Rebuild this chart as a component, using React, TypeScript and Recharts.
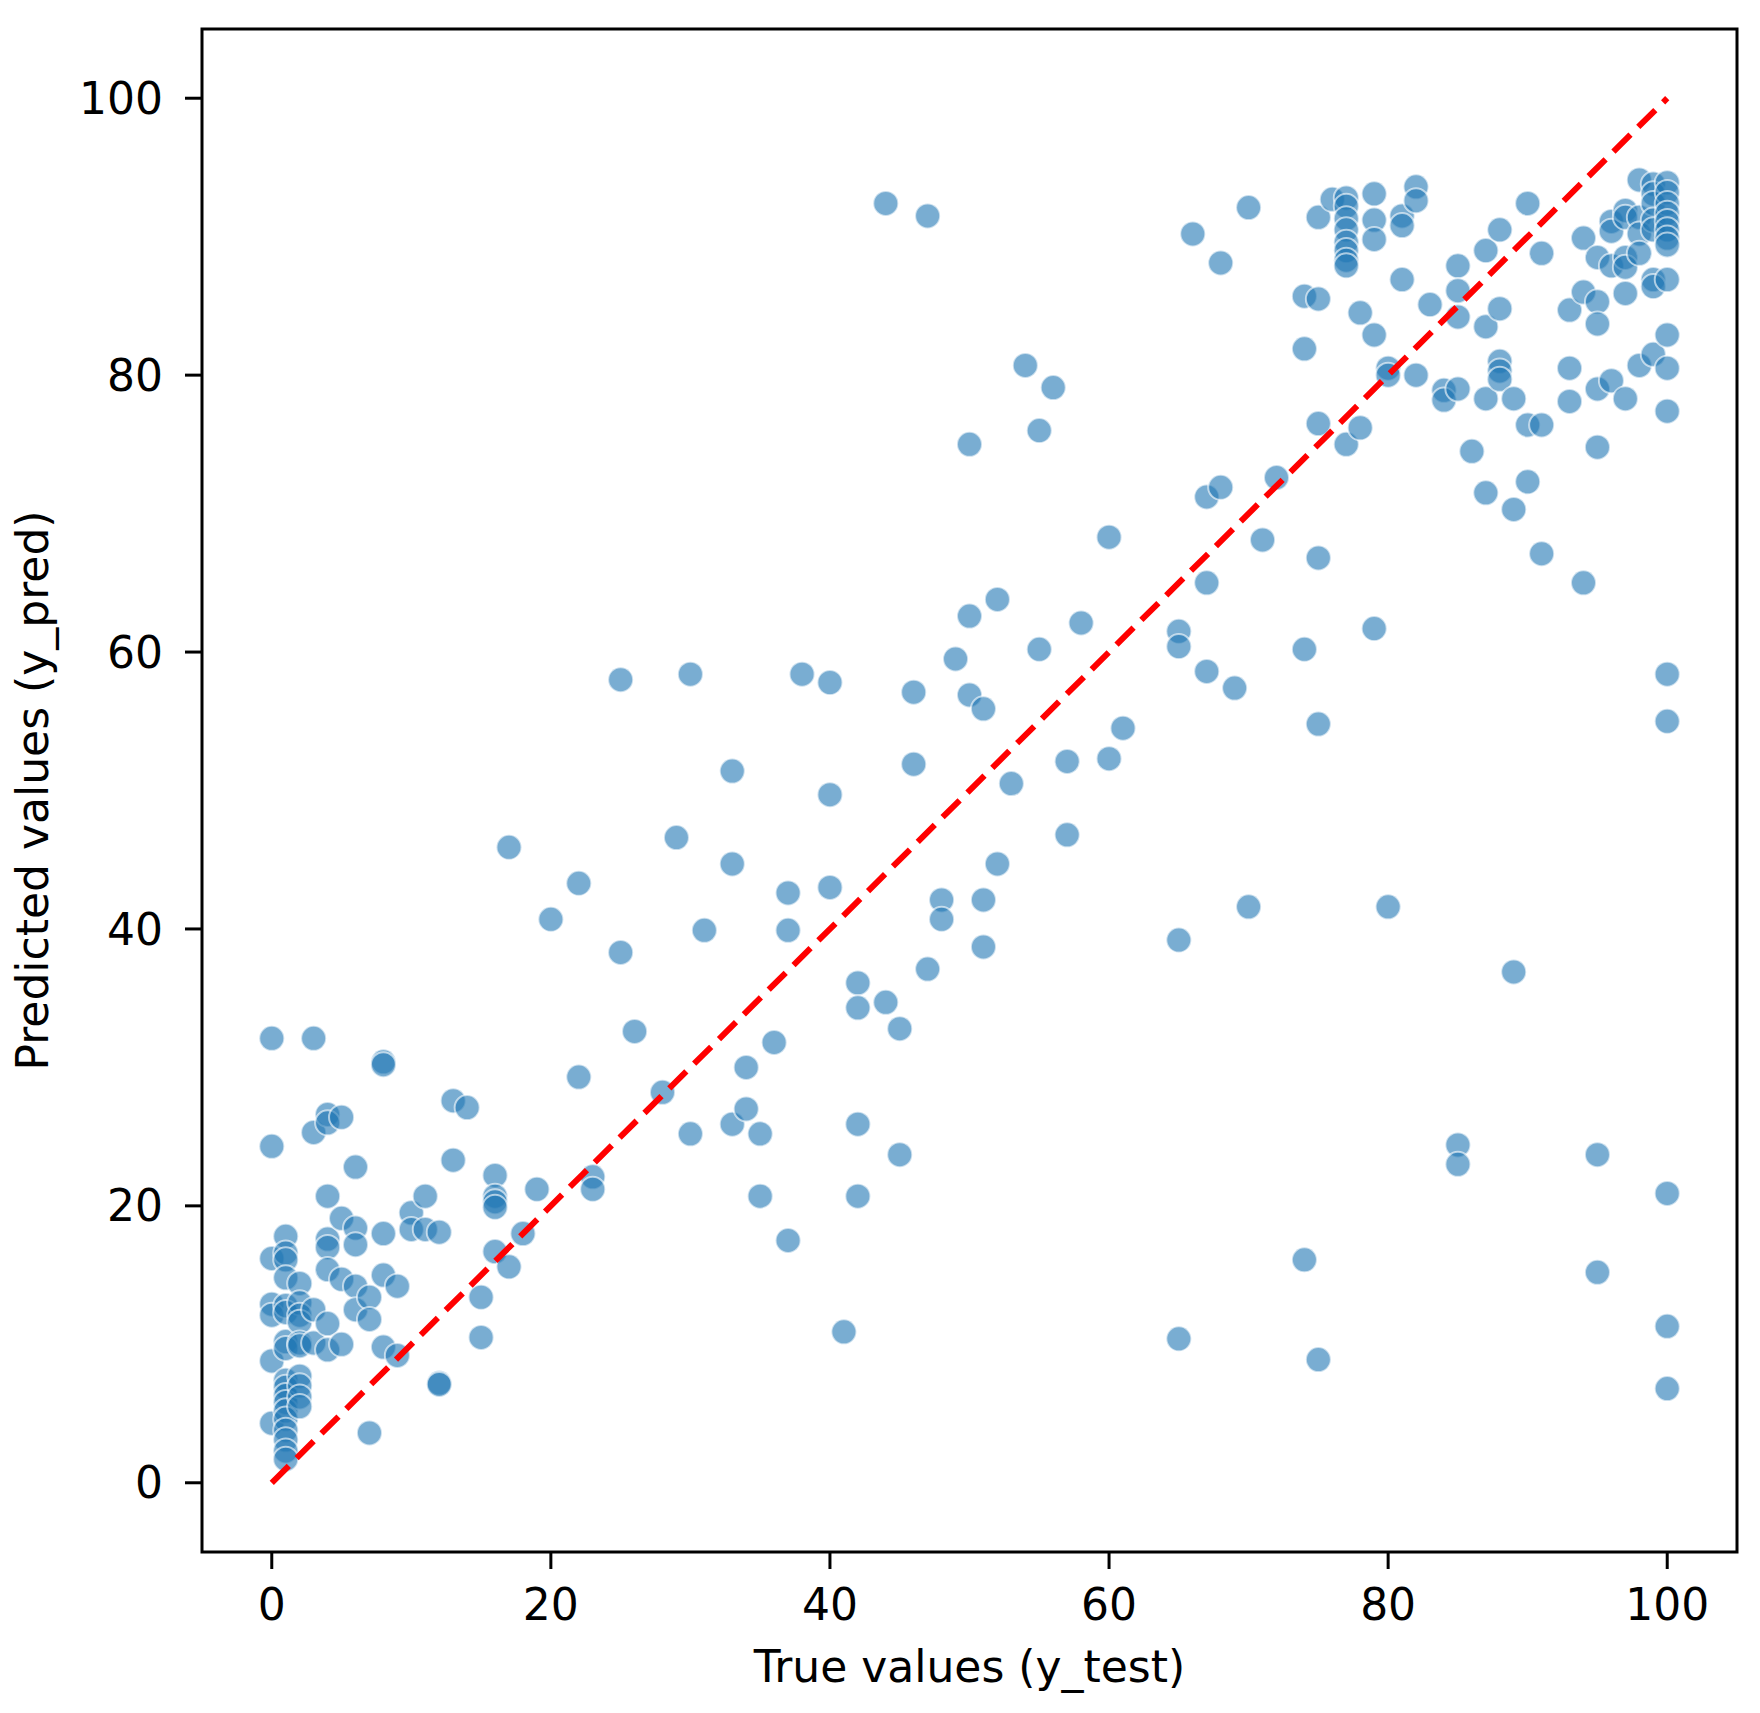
import React from 'react';
import { ScatterChart, Scatter, XAxis, YAxis, ReferenceArea } from 'recharts';

const trueValues = [
  0, 1, 2, 3, 4, 5, 6, 7, 8, 9, 10, 11, 12, 13, 14, 15, 16, 17, 18, 19, 20, 22, 23, 25, 26, 28, 29, 30,
  31, 33, 34, 35, 36, 37, 38, 40, 41, 42, 44, 45, 46, 47, 48, 49, 50, 51, 52, 53, 54, 55, 56, 57, 58,
  60, 61, 65, 66, 67, 68, 69, 70, 71, 72, 74, 75, 76, 77, 78, 79, 80, 81, 82, 83, 84, 85, 86, 87, 88,
  89, 90, 91, 93, 94, 95, 96, 97, 98, 99, 100,
];

const predictedValues = [
  [32.1, 24.3, 16.2, 12.9, 12.1, 8.8, 4.3],
  [17.8, 16.6, 16.1, 14.8, 12.8, 12.3, 10.2, 9.7, 7.4, 6.9, 6.3, 5.8, 5.2, 4.6, 3.8, 3.1, 2.3, 1.7],
  [14.4, 13.0, 12.1, 11.6, 10.1, 9.9, 7.7, 7.0, 6.2, 5.5],
  [32.1, 25.3, 12.5, 10.1],
  [26.6, 26.0, 20.7, 17.6, 17.0, 15.4, 11.5, 9.6],
  [26.4, 19.1, 14.7, 10.0],
  [22.8, 18.4, 17.2, 14.2, 12.5],
  [13.4, 11.8, 3.6],
  [30.4, 30.2, 18.0, 15.0, 9.8],
  [14.2, 9.2],
  [19.5, 18.3],
  [20.7, 18.3],
  [18.1, 7.2, 7.1],
  [27.6, 23.3],
  [27.1],
  [13.4, 10.5],
  [22.2, 20.7, 20.3, 19.9, 16.7],
  [45.9, 15.6],
  [18.0],
  [21.2],
  [40.7],
  [43.3, 29.3],
  [22.1, 21.2],
  [58.0, 38.3],
  [32.6],
  [28.2],
  [46.6],
  [58.4, 25.2],
  [39.9],
  [51.4, 44.7, 25.9],
  [30.0, 27.0],
  [25.2, 20.7],
  [31.8],
  [42.6, 39.9, 17.5],
  [58.4],
  [57.8, 49.7, 43.0],
  [10.9],
  [36.1, 34.3, 25.9, 20.7],
  [92.4, 34.7],
  [32.8, 23.7],
  [57.1, 51.9],
  [91.5, 37.1],
  [42.1, 40.7],
  [59.5],
  [75.0, 62.6, 56.9],
  [55.9, 42.1, 38.7],
  [63.8, 44.7],
  [50.5],
  [80.7],
  [76.0, 60.2],
  [79.1],
  [52.1, 46.8],
  [62.1],
  [68.3, 52.3],
  [54.5],
  [61.5, 60.4, 39.2, 10.4],
  [90.2],
  [71.2, 65.0, 58.6],
  [88.1, 71.9],
  [57.4],
  [92.1, 41.6],
  [68.1],
  [72.6],
  [85.7, 81.9, 60.2, 16.1],
  [91.4, 85.5, 76.5, 66.8, 54.8, 8.9],
  [92.7],
  [92.8, 92.2, 91.3, 90.5, 89.6, 89.0, 88.3, 87.9, 75.0],
  [84.5, 76.2],
  [93.1, 91.2, 89.8, 82.9, 61.7],
  [80.5, 80.0, 41.6],
  [91.5, 90.8, 86.9],
  [93.6, 92.6, 80.0],
  [85.1],
  [78.9, 78.2],
  [87.9, 86.1, 84.2, 79.0, 24.4, 23.0],
  [74.5],
  [89.0, 83.5, 78.3, 71.5],
  [90.5, 84.8, 81.0, 80.3, 79.7],
  [78.3, 70.3, 36.9],
  [92.4, 76.4, 72.3],
  [88.8, 76.4, 67.1],
  [84.7, 80.5, 78.1],
  [89.9, 86.0, 65.0],
  [88.5, 85.3, 83.7, 79.0, 74.8, 23.7, 15.2],
  [91.1, 90.4, 87.9, 79.6],
  [91.9, 91.4, 88.5, 87.8, 85.9, 78.3],
  [94.1, 91.4, 90.2, 88.8, 80.7],
  [93.8, 93.1, 92.4, 91.2, 90.5, 86.9, 86.4, 81.5],
  [93.9, 93.2, 92.4, 91.7, 91.1, 90.5, 89.9, 89.4, 86.9, 82.9, 80.5, 77.4, 58.4, 55.0, 20.9, 11.3, 6.8],
];

const axisTicks = [0, 20, 40, 60, 80, 100];
const axisDomain = [-5, 105];

const points = trueValues.flatMap((t, i) => predictedValues[i].map((p) => ({ x: t, y: p })));
const lo = Math.min(...trueValues);
const hi = Math.max(...trueValues);
const diagonal = [{ x: lo, y: lo }, { x: hi, y: hi }];

const FONT = '"DejaVu Sans", sans-serif';
const tickStyle = { fontSize: 44, fill: '#000', fontFamily: FONT };

const Dot = (props: any) => (
  <circle
    cx={props.cx}
    cy={props.cy}
    r={12.5}
    fill="#1f77b4"
    fillOpacity={0.6}
    stroke="#ffffff"
    strokeOpacity={0.6}
    strokeWidth={2}
  />
);

const NoDot = () => <g />;

const XTitle = (props: any) => {
  const vb = props.viewBox || {};
  const x = vb.x + vb.width / 2;
  const y = vb.y + 130;
  return (
    <text x={x} y={y} textAnchor="middle" fontSize={44} fontFamily={FONT} fill="#000">
      True values (y_test)
    </text>
  );
};

const YTitle = (props: any) => {
  const vb = props.viewBox || {};
  const x = 40;
  const y = vb.y + vb.height / 2;
  return (
    <text
      x={x}
      y={y}
      transform={`rotate(-90 ${x} ${y})`}
      textAnchor="middle"
      fontSize={44}
      fontFamily={FONT}
      fill="#000"
    >
      Predicted values (y_pred)
    </text>
  );
};

export default function App() {
  return (
    <div style={{ width: 1752, height: 1705, background: '#fff' }}>
      <ScatterChart width={1752} height={1705} margin={{ top: 21, right: 23, bottom: 0, left: 0 }}>
        <XAxis
          type="number"
          dataKey="x"
          domain={axisDomain}
          ticks={axisTicks}
          allowDataOverflow
          height={161}
          tickSize={17}
          tickMargin={20}
          axisLine={false}
          tickLine={{ stroke: '#000', strokeWidth: 3 }}
          tick={tickStyle}
          label={<XTitle />}
        />
        <YAxis
          type="number"
          dataKey="y"
          domain={axisDomain}
          ticks={axisTicks}
          allowDataOverflow
          width={194}
          tickSize={17}
          tickMargin={22}
          axisLine={false}
          tickLine={{ stroke: '#000', strokeWidth: 3 }}
          tick={tickStyle}
          label={<YTitle />}
        />
        <Scatter data={points} shape={<Dot />} isAnimationActive={false} />
        <Scatter
          data={diagonal}
          shape={<NoDot />}
          line={{ stroke: '#ff0000', strokeWidth: 6, strokeDasharray: '24 11' }}
          isAnimationActive={false}
        />
        <ReferenceArea
          x1={axisDomain[0]}
          x2={axisDomain[1]}
          y1={axisDomain[0]}
          y2={axisDomain[1]}
          fill="none"
          stroke="#000"
          strokeWidth={3}
          ifOverflow="visible"
        />
      </ScatterChart>
    </div>
  );
}
